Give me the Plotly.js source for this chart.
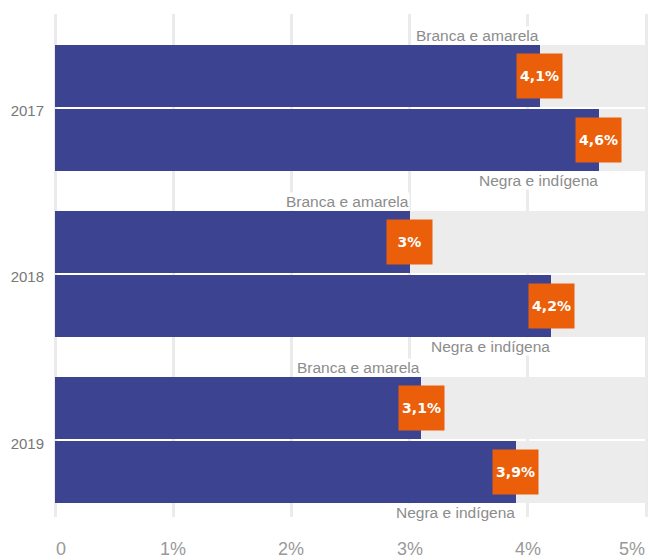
<!DOCTYPE html>
<html>
<head>
<meta charset="utf-8">
<script src="https://cdn.plot.ly/plotly-3.0.1.min.js"></script>
<style>html,body{margin:0;padding:0;background:#fff;}#chart{width:649px;height:558px;}</style>
</head>
<body>
<div id="chart"></div>
<script>
// ---- data ----
const years = ['2017', '2018', '2019'];
const brancaAmarela = [4.1, 3.0, 3.1];
const negraIndigena = [4.6, 4.2, 3.9];
const seriesNames = ['Branca e amarela', 'Negra e indígena'];
const xTickVals = [0, 1, 2, 3, 4, 5];
const xTickText = ['0', '1%', '2%', '3%', '4%', '5%'];
const X_MAX = 5;

// ---- style ----
const BLUE = '#3c4391';
const ORANGE = '#eb5f0a';
const BAND = '#ececec';
const GRID = '#ebebeb';
const OFF = 0.192;
const BARW = 0.372;
const FONT = 'Liberation Sans, Arial, sans-serif';

const idx = years.map((_, i) => i);
const yTop = idx.map(i => i - OFF);
const yBot = idx.map(i => i + OFF);
const fmt = v => String(v).replace('.', ',') + '%';

const traces = [
  {type: 'bar', orientation: 'h', x: idx.map(() => X_MAX), y: yTop, width: BARW,
   marker: {color: BAND}, hoverinfo: 'skip', showlegend: false},
  {type: 'bar', orientation: 'h', x: idx.map(() => X_MAX), y: yBot, width: BARW,
   marker: {color: BAND}, hoverinfo: 'skip', showlegend: false},
  {type: 'bar', orientation: 'h', name: seriesNames[0], x: brancaAmarela, y: yTop, width: BARW,
   marker: {color: BLUE}, showlegend: false},
  {type: 'bar', orientation: 'h', name: seriesNames[1], x: negraIndigena, y: yBot, width: BARW,
   marker: {color: BLUE}, showlegend: false}
];

const annotations = [];
idx.forEach(i => {
  annotations.push({x: brancaAmarela[i], y: yTop[i] - BARW / 2, xref: 'x', yref: 'y',
    xanchor: 'right', yanchor: 'bottom', showarrow: false, text: seriesNames[0],
    bgcolor: '#ffffff', borderpad: 0, font: {family: FONT, size: 15.5, color: '#8c8c8c'}});
  annotations.push({x: negraIndigena[i], y: yBot[i] + BARW / 2, xref: 'x', yref: 'y',
    xanchor: 'right', yanchor: 'top', showarrow: false, text: seriesNames[1],
    bgcolor: '#ffffff', borderpad: 0, font: {family: FONT, size: 15.5, color: '#8c8c8c'}});
  annotations.push({x: brancaAmarela[i], y: yTop[i], xref: 'x', yref: 'y',
    xanchor: 'center', yanchor: 'middle', showarrow: false, text: fmt(brancaAmarela[i]),
    width: 45, height: 44, bgcolor: ORANGE, borderpad: 0, align: 'center', valign: 'middle',
    font: {family: 'DejaVu Sans, sans-serif', size: 14, color: '#ffffff', weight: 'bold'}});
  annotations.push({x: negraIndigena[i], y: yBot[i], xref: 'x', yref: 'y',
    xanchor: 'center', yanchor: 'middle', showarrow: false, text: fmt(negraIndigena[i]),
    width: 45, height: 44, bgcolor: ORANGE, borderpad: 0, align: 'center', valign: 'middle',
    font: {family: 'DejaVu Sans, sans-serif', size: 14, color: '#ffffff', weight: 'bold'}});
});
xTickVals.forEach((v, k) => {
  annotations.push({x: v, y: 0, xref: 'x', yref: 'paper', yanchor: 'top', yshift: -21,
    xanchor: k === 0 ? 'left' : (k === xTickVals.length - 1 ? 'right' : 'center'),
    showarrow: false, text: xTickText[k], borderpad: 0,
    font: {family: FONT, size: 18, color: '#999999'}});
});

const layout = {
  width: 649, height: 558,
  margin: {l: 53, r: 1, t: 14, b: 41},
  paper_bgcolor: '#ffffff', plot_bgcolor: '#ffffff',
  barmode: 'overlay', bargap: 0,
  showlegend: false,
  xaxis: {range: [-0.0169, 5.0169], tickvals: xTickVals, showticklabels: false,
    showgrid: true, gridcolor: GRID, gridwidth: 3, zeroline: false, ticks: '', fixedrange: true},
  yaxis: {range: [2.4617, -0.5658], tickvals: idx, ticktext: years, showgrid: false,
    zeroline: false, ticks: '', ticklabelstandoff: 8, ticklabelshift: -3,
    tickfont: {family: FONT, size: 15, color: '#777777'}, fixedrange: true},
  annotations: annotations
};

Plotly.newPlot('chart', traces, layout, {displayModeBar: false, staticPlot: true});
</script>
</body>
</html>
